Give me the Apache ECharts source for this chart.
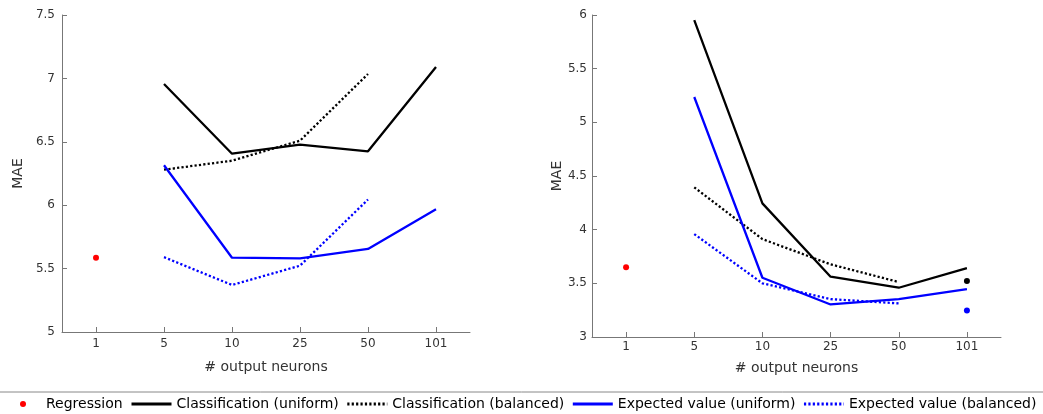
<!DOCTYPE html>
<html>
<head>
<meta charset="utf-8">
<script src="https://cdn.jsdelivr.net/npm/echarts@6/dist/echarts.min.js"></script>
<style>
html,body{margin:0;padding:0;background:#fff;}
#chart{width:1043px;height:414px;}
</style>
</head>
<body>
<div id="chart"></div>
<script>
// ---- data ----
const categories = ['1', '5', '10', '25', '50', '101'];

// Left panel
const leftRegression        = [5.586, null, null, null, null, null];
const leftClassUniform      = [null, 6.956, 6.406, 6.477, 6.425, 7.090];
const leftClassBalanced     = [null, 6.280, 6.351, 6.509, 7.035, null];
const leftExpectedUniform   = [null, 6.315, 5.586, 5.581, 5.655, 5.968];
const leftExpectedBalanced  = [null, 5.590, 5.371, 5.523, 6.045, null];

// Right panel
const rightRegression       = [3.649, null, null, null, null, null];
const rightClassUniform     = [null, 5.953, 4.245, 3.562, 3.459, 3.642];
const rightClassBalanced    = [null, 4.394, 3.912, 3.677, 3.512, null];
const rightExpectedUniform  = [null, 5.236, 3.552, 3.303, 3.353, 3.446];
const rightExpectedBalanced = [null, 3.959, 3.500, 3.353, 3.313, null];
const rightClassBalancedDot    = [null, null, null, null, null, 3.521];
const rightExpectedBalancedDot = [null, null, null, null, null, 3.248];

const leftYTicks  = {min: 5, max: 7.5, interval: 0.5};
const rightYTicks = {min: 3, max: 6, interval: 0.5};

const seriesNames = ['Regression', 'Classification (uniform)', 'Classification (balanced)', 'Expected value (uniform)', 'Expected value (balanced)'];

// ---- styles ----
const FONT = 'DejaVu Sans';
const AXIS_COLOR = '#777';
const TEXT_COLOR = '#333';
const LW = 2.3;

function lineSeries(name, data, color, dotted, idx) {
  return {
    name: name, type: 'line', data: data,
    xAxisIndex: idx, yAxisIndex: idx,
    symbol: 'none', showSymbol: false, connectNulls: false,
    lineStyle: {color: color, width: LW, type: dotted ? [2.2, 2.2] : 'solid', cap: 'butt'},
    itemStyle: {color: color},
    emphasis: {disabled: true},
    silent: true, animation: false
  };
}
function dotSeries(name, data, color, idx) {
  return {
    name: name, type: 'scatter', data: data,
    xAxisIndex: idx, yAxisIndex: idx,
    symbol: 'circle', symbolSize: 6,
    itemStyle: {color: color, opacity: 1},
    emphasis: {disabled: true},
    silent: true, animation: false
  };
}
function xAxis(idx, margin, nameGap) {
  return {
    type: 'category', gridIndex: idx, data: categories,
    boundaryGap: true,
    name: '# output neurons', nameLocation: 'middle', nameGap: nameGap,
    nameTextStyle: {fontFamily: FONT, fontSize: 14, color: TEXT_COLOR},
    axisLine: {lineStyle: {color: AXIS_COLOR, width: 1}},
    axisTick: {show: true, inside: true, length: 5, alignWithLabel: true, lineStyle: {color: AXIS_COLOR}},
    axisLabel: {fontFamily: FONT, fontSize: 12, color: TEXT_COLOR, margin: margin, interval: 0},
    splitLine: {show: false}
  };
}
function yAxis(idx, ticks, margin, nameGap) {
  return {
    type: 'value', gridIndex: idx,
    min: ticks.min, max: ticks.max, interval: ticks.interval,
    name: 'MAE', nameLocation: 'middle', nameGap: nameGap, nameRotate: 90,
    nameTextStyle: {fontFamily: FONT, fontSize: 14, color: TEXT_COLOR},
    axisLine: {show: true, lineStyle: {color: AXIS_COLOR, width: 1}},
    axisTick: {show: true, inside: true, length: 5, lineStyle: {color: AXIS_COLOR}},
    axisLabel: {fontFamily: FONT, fontSize: 12, color: TEXT_COLOR, margin: margin, showMinLabel: true, showMaxLabel: true},
    splitLine: {show: false}
  };
}

const chart = echarts.init(document.getElementById('chart'), null, {renderer: 'canvas'});
const option = {
  backgroundColor: '#fff',
  animation: false,
  textStyle: {fontFamily: FONT},
  grid: [
    {left: 62, right: 573, top: 15, bottom: 82, containLabel: false},
    {left: 592, right: 42, top: 15, bottom: 77, containLabel: false}
  ],
  xAxis: [xAxis(0, 6, 28), xAxis(1, 4, 24)],
  yAxis: [yAxis(0, leftYTicks, 7, 37), yAxis(1, rightYTicks, 5, 27)],
  legend: [
    {
      data: [seriesNames[0]], left: 20, top: 397, padding: 0,
      itemWidth: 36, itemHeight: 6, icon: 'circle',
      itemStyle: {opacity: 1},
      textStyle: {fontFamily: FONT, fontSize: 14, color: '#000'},
      selectedMode: false
    },
    {
      data: seriesNames.slice(1), left: 130, top: 397, padding: 0,
      itemWidth: 40, itemHeight: 14, itemGap: 7,
      itemStyle: {opacity: 0, borderWidth: 0},
      lineStyle: {width: 3},
      textStyle: {fontFamily: FONT, fontSize: 14, color: '#000'},
      selectedMode: false
    }
  ],
  graphic: [
    {type: 'line', shape: {x1: 0, y1: 392, x2: 1043, y2: 392}, style: {stroke: '#888', lineWidth: 1}, silent: true}
  ],
  series: [
    dotSeries(seriesNames[0], leftRegression, '#ff0000', 0),
    lineSeries(seriesNames[1], leftClassUniform, '#000000', false, 0),
    lineSeries(seriesNames[2], leftClassBalanced, '#000000', true, 0),
    lineSeries(seriesNames[3], leftExpectedUniform, '#0000ff', false, 0),
    lineSeries(seriesNames[4], leftExpectedBalanced, '#0000ff', true, 0),

    dotSeries(seriesNames[0], rightRegression, '#ff0000', 1),
    lineSeries(seriesNames[1], rightClassUniform, '#000000', false, 1),
    lineSeries(seriesNames[2], rightClassBalanced, '#000000', true, 1),
    lineSeries(seriesNames[3], rightExpectedUniform, '#0000ff', false, 1),
    lineSeries(seriesNames[4], rightExpectedBalanced, '#0000ff', true, 1),
    dotSeries('Classification (balanced) 101', rightClassBalancedDot, '#000000', 1),
    dotSeries('Expected value (balanced) 101', rightExpectedBalancedDot, '#0000ff', 1)
  ]
};
chart.setOption(option);
</script>
</body>
</html>
